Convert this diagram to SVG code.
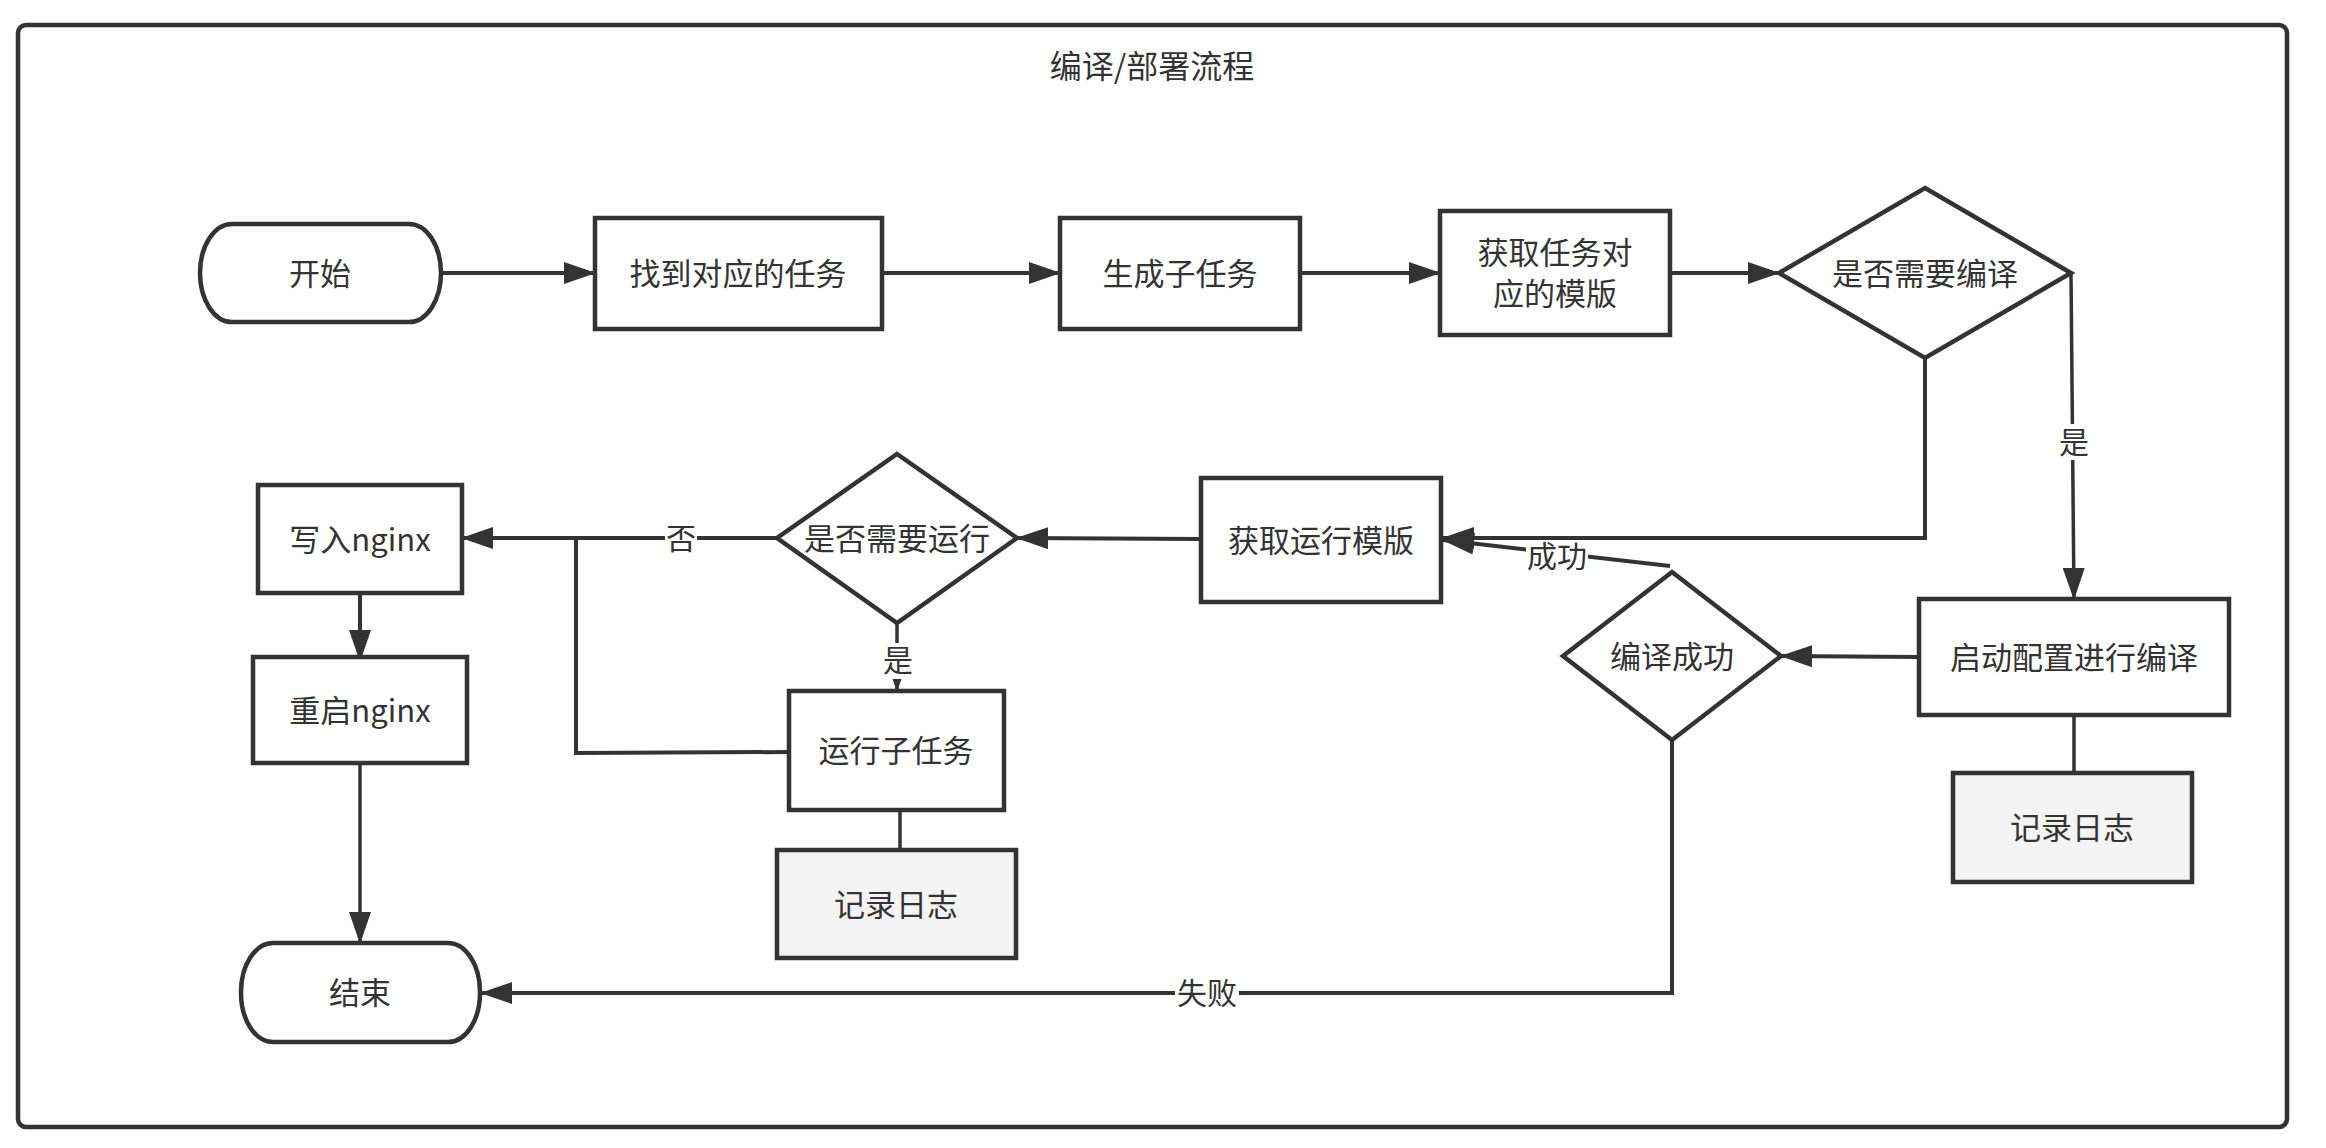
<svg xmlns="http://www.w3.org/2000/svg" width="2326" height="1148" viewBox="0 0 2326 1148">
<style>
.frame{fill:#fff;stroke:#333;stroke-width:4.5}
.n{fill:#fff;stroke:#333;stroke-width:4.5}
.log{fill:#f4f4f4;stroke:#333;stroke-width:4.5}
.t{font-family:"Noto Sans CJK SC","Noto Sans",sans-serif;font-size:31px;fill:#333;text-anchor:middle;dominant-baseline:central}
.title{font-size:32px}
.c{fill:none;stroke:#333;stroke-width:4}
.thin{stroke-width:3.5}
.lb{fill:#fff}
.lt{font-family:"Noto Sans CJK SC","Noto Sans",sans-serif;font-size:30px;fill:#333;text-anchor:middle;dominant-baseline:central}
</style>
<defs>
<marker id="ah" markerUnits="userSpaceOnUse" markerWidth="32" markerHeight="22" refX="31" refY="11" orient="auto">
<path d="M0,0 L32,11 L0,22 z" fill="#333"/>
</marker>
</defs>
<rect class="frame" x="18" y="25" width="2269" height="1102" rx="8"/>
<text class="t title" x="1152" y="64">编译/部署流程</text>

<g id="connectors">
<line class="c" x1="441" y1="273" x2="595" y2="273" marker-end="url(#ah)"/>
<line class="c" x1="882" y1="273" x2="1060" y2="273" marker-end="url(#ah)"/>
<line class="c" x1="1300" y1="273" x2="1440" y2="273" marker-end="url(#ah)"/>
<line class="c" x1="1670" y1="273" x2="1779" y2="273" marker-end="url(#ah)"/>
<line class="c thin" x1="2071" y1="273" x2="2074" y2="599" marker-end="url(#ah)"/>
<line class="c thin" x1="2074" y1="715" x2="2074" y2="773"/>
<line class="c" x1="1919" y1="657" x2="1781" y2="656" marker-end="url(#ah)"/>
<polyline class="c" points="1925,358 1925,538 1443,538" marker-end="url(#ah)"/>
<line class="c" x1="1670" y1="566" x2="1443" y2="540" marker-end="url(#ah)"/>
<line class="c" x1="1201" y1="539" x2="1017" y2="538" marker-end="url(#ah)"/>
<line class="c thin" x1="897" y1="623" x2="897" y2="691" marker-end="url(#ah)"/>
<line class="c thin" x1="900" y1="810" x2="900" y2="850"/>
<line class="c" x1="777" y1="538" x2="462" y2="538" marker-end="url(#ah)"/>
<polyline class="c" points="789,752 576,753 576,538"/>
<line class="c" x1="360" y1="593" x2="360" y2="661" marker-end="url(#ah)"/>
<line class="c thin" x1="360" y1="763" x2="360" y2="943" marker-end="url(#ah)"/>
<polyline class="c" points="1672,740 1672,993 481,993" marker-end="url(#ah)"/>
<rect class="lb" x="2058" y="424" width="32" height="36"/>
<text class="lt" x="2074" y="440">是</text>
<rect class="lb" x="1526" y="542" width="62" height="30"/>
<text class="lt" x="1557" y="554">成功</text>
<rect class="lb" x="665" y="520" width="32" height="36"/>
<text class="lt" x="681" y="536">否</text>
<rect class="lb" x="882" y="643" width="32" height="36"/>
<text class="lt" x="898" y="658">是</text>
<rect class="lb" x="1175" y="975" width="64" height="36"/>
<text class="lt" x="1207" y="991">失败</text>
</g>

<g id="start"><rect class="n" x="200" y="224" width="241" height="98" rx="32" ry="49"/><text class="t" x="320" y="271">开始</text></g>
<g id="find-task"><rect class="n" x="595" y="218" width="287" height="111"/><text class="t" x="738" y="271">找到对应的任务</text></g>
<g id="gen-subtask"><rect class="n" x="1060" y="218" width="240" height="111"/><text class="t" x="1180" y="271">生成子任务</text></g>
<g id="get-template"><rect class="n" x="1440" y="211" width="230" height="124"/><text class="t" x="1555" y="250">获取任务对</text><text class="t" x="1555" y="291">应的模版</text></g>
<g id="need-compile"><polygon class="n" points="1925,188 2071,273 1925,358 1779,273"/><text class="t" x="1925" y="271">是否需要编译</text></g>
<g id="start-compile"><rect class="n" x="1919" y="599" width="310" height="116"/><text class="t" x="2074" y="655">启动配置进行编译</text></g>
<g id="log-right"><rect class="log" x="1953" y="773" width="239" height="109"/><text class="t" x="2072" y="825">记录日志</text></g>
<g id="compile-ok"><polygon class="n" points="1672,572 1781,656 1672,740 1563,656"/><text class="t" x="1672" y="654">编译成功</text></g>
<g id="get-run-template"><rect class="n" x="1201" y="478" width="240" height="124"/><text class="t" x="1321" y="538">获取运行模版</text></g>
<g id="need-run"><polygon class="n" points="897,454 1017,538 897,623 777,538"/><text class="t" x="897" y="536">是否需要运行</text></g>
<g id="run-subtask"><rect class="n" x="789" y="691" width="215" height="119"/><text class="t" x="896" y="748">运行子任务</text></g>
<g id="log-mid"><rect class="log" x="777" y="850" width="239" height="108"/><text class="t" x="896" y="902">记录日志</text></g>
<g id="write-nginx"><rect class="n" x="258" y="485" width="204" height="108"/><text class="t" x="360" y="537">写入nginx</text></g>
<g id="restart-nginx"><rect class="n" x="253" y="657" width="214" height="106"/><text class="t" x="360" y="708">重启nginx</text></g>
<g id="end"><rect class="n" x="241" y="943" width="239" height="99" rx="32" ry="49"/><text class="t" x="360" y="990">结束</text></g>
</svg>
